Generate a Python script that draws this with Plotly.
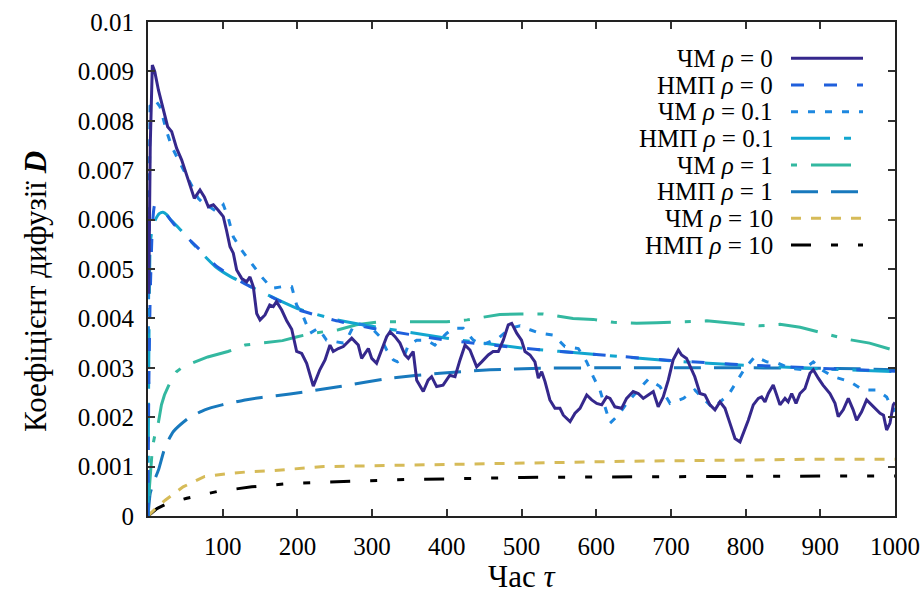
import plotly.graph_objects as go

# ---------------- data (D in units of 1e-3) ----------------
chm0_x = [1, 3, 5.8, 9, 14, 20.5, 26.3, 31.7, 38.4, 45, 51.8, 56, 62, 69.6, 75.4, 80.8, 87.5, 94, 100.8, 105,
          109.8, 114.2, 118.7, 125.4, 132, 136.5, 141, 145.5, 150, 156.6, 163, 167.7, 172, 179, 185.7, 192.4,
          199, 205.8, 212.4, 221.3, 230, 237, 243.6, 248, 254.8, 261.5, 266, 272.7, 281.5, 286, 295, 299.5,
          306, 312.8, 319.5, 324, 330.7, 337.3, 344, 348.5, 355, 359.7, 364, 368.5, 375, 379.7, 386.4, 395,
          404, 411, 417.7, 424.4, 431, 440, 446.7, 455.5, 462, 469, 475.6, 482.3, 486.9, 493.6, 500, 504.7,
          511.4, 518, 522.5, 527, 531.5, 538, 544.8, 551.5, 556, 565, 571.6, 578.3, 587.3, 594, 600.7, 607.4,
          614, 618.5, 625, 634, 640.7, 649.5, 656.3, 663, 669.7, 676.4, 683, 689.7, 696.5, 703, 710, 714.3,
          721, 727.7, 732, 739, 745.6, 752.3, 759, 765.7, 772.4, 779, 785.8, 792.5, 797, 803.6, 810.3, 817,
          821.4, 826, 830.4, 837, 841.6, 846, 852.7, 857, 861.7, 867.5, 872.8, 879.5, 886.2, 890.6, 897.3,
          903.6, 912.9, 919.7, 924, 930.7, 937.5, 944, 948.6, 955.3, 962, 968.7, 973, 980, 984.6, 988.8,
          993.3, 997.7, 1000]
chm0_y = [4.5, 7.5, 9.13, 9.0, 8.62, 8.22, 7.88, 7.78, 7.44, 7.21, 6.9, 6.67, 6.43, 6.6, 6.46, 6.26, 6.3, 6.19,
          6.06, 5.79, 5.45, 5.32, 4.98, 4.81, 4.74, 4.84, 4.64, 4.10, 3.97, 4.07, 4.27, 4.24, 4.34, 4.17, 3.95,
          3.78, 3.33, 3.29, 3.09, 2.63, 2.96, 3.16, 3.46, 3.33, 3.39, 3.43, 3.50, 3.60, 3.46, 3.19, 3.39, 3.19,
          3.09, 3.36, 3.63, 3.73, 3.63, 3.50, 3.26, 3.19, 3.33, 2.75, 2.65, 2.52, 2.75, 2.82, 2.62, 2.65, 2.85,
          2.82, 3.16, 3.46, 3.36, 3.02, 3.12, 3.26, 3.33, 3.33, 3.56, 3.87, 3.90, 3.70, 3.56, 3.33, 3.26, 3.12,
          2.79, 2.92, 2.72, 2.35, 2.18, 2.18, 2.04, 1.91, 2.08, 2.18, 2.45, 2.35, 2.28, 2.25, 2.41, 2.38, 2.21,
          2.18, 2.38, 2.52, 2.48, 2.38, 2.45, 2.52, 2.21, 2.41, 2.75, 3.16, 3.36, 3.26, 3.19, 2.96, 2.82, 2.48,
          2.45, 2.25, 2.15, 2.31, 2.18, 1.88, 1.57, 1.50, 1.67, 1.94, 2.25, 2.38, 2.41, 2.31, 2.48, 2.65, 2.45,
          2.25, 2.38, 2.31, 2.48, 2.28, 2.48, 2.58, 2.89, 2.96, 2.79, 2.65, 2.48, 2.28, 2.01, 2.15, 2.38, 2.15,
          1.94, 2.11, 2.35, 2.25, 2.18, 2.08, 2.04, 1.74, 1.88, 2.25, 2.30]

nmp0_x = [0, 1, 3, 6, 9, 13, 18, 25, 35, 45, 55, 70, 90, 110, 130, 150, 175, 200, 250, 300, 400, 500, 600,
          700, 800, 900, 1000]
nmp0_y = [0, 2.5, 4.5, 5.9, 6.3, 6.32, 6.25, 6.1, 5.9, 5.75, 5.6, 5.38, 5.08, 4.87, 4.7, 4.55, 4.36, 4.18,
          3.96, 3.8, 3.56, 3.40, 3.27, 3.15, 3.06, 2.99, 2.93]

chm01_x = [0.5, 1.5, 2.7, 9.4, 16, 25, 31.7, 40.6, 49.5, 58.5, 67.3, 76.3, 85.3, 92, 100.8, 107.5, 114.2, 125.4,
           138.8, 152.2, 165.6, 179, 192.4, 199, 208, 216.9, 228, 239, 250.3, 261.5, 268, 277, 288, 299.5,
           310.6, 319.5, 328.4, 334, 341.8, 348.5, 359.7, 373, 384, 400, 408.7, 422, 435.5, 446.7, 457.8, 469,
           484.6, 498, 511.4, 524.8, 542.6, 558.2, 576, 587.3, 596, 605, 611.8, 618.5, 629.6, 640.7, 656.3,
           669.7, 685.4, 698.8, 716.6, 732, 748, 756.8, 765.7, 776.9, 788, 799, 812.6, 828.2, 843.8, 859.4,
           877.2, 890.6, 901.8, 917.4, 939.7, 957.5, 975.4, 988.8, 997.7, 1000]
chm01_y = [3.7, 6.5, 8.3, 8.42, 8.29, 7.78, 7.48, 7.21, 6.94, 6.67, 6.43, 6.30, 6.23, 6.16, 6.30, 6.03, 5.65,
           5.38, 5.11, 4.84, 4.61, 4.64, 4.64, 4.27, 4.03, 3.70, 3.80, 3.56, 3.53, 3.50, 3.63, 3.90, 3.87, 3.80,
           3.63, 3.36, 3.16, 3.12, 3.19, 3.46, 3.56, 3.56, 3.46, 3.70, 3.80, 3.80, 3.56, 3.46, 3.53, 3.60, 3.80,
           3.85, 3.77, 3.70, 3.66, 3.43, 3.39, 3.12, 2.82, 2.55, 2.21, 1.88, 2.04, 2.28, 2.55, 2.77, 2.62, 2.28,
           2.38, 2.55, 2.31, 2.18, 2.31, 2.45, 2.72, 2.99, 3.23, 3.12, 3.09, 2.99, 2.96, 3.12, 2.96, 2.82, 2.72,
           2.55, 2.55, 2.41, 2.11, 2.30]

nmp01_x = [0, 1, 3, 6, 10, 15, 20, 25, 30, 40, 55, 70, 90, 110, 130, 150, 175, 200, 250, 300, 400, 500, 600,
           700, 800, 900, 1000]
nmp01_y = [0, 3.0, 5.5, 5.85, 6.0, 6.12, 6.15, 6.1, 6.0, 5.85, 5.6, 5.35, 5.05, 4.85, 4.7, 4.55, 4.37, 4.2,
           3.98, 3.84, 3.6, 3.4, 3.27, 3.14, 3.05, 2.98, 2.92]

chm1_x = [0, 2, 5, 7, 10, 14, 18, 22, 27, 32, 38, 45, 58, 80, 107, 130, 152, 180, 200, 221, 255, 279, 310, 355,
          400, 427, 449, 471, 498, 529, 569, 596, 623, 654, 681, 721, 748, 783, 819, 846, 873, 904, 935, 966,
          993, 1000]
chm1_y = [0, 0.6, 1.2, 1.47, 1.7, 1.9, 2.25, 2.45, 2.62, 2.78, 2.92, 3.0, 3.09, 3.22, 3.33, 3.46, 3.50, 3.55,
          3.63, 3.70, 3.77, 3.87, 3.93, 3.93, 3.93, 3.97, 4.03, 4.08, 4.09, 4.09, 4.0, 3.98, 3.92, 3.90, 3.91,
          3.93, 3.95, 3.90, 3.85, 3.88, 3.82, 3.70, 3.58, 3.50, 3.37, 3.35]

nmp1_x = [0, 3, 8, 14, 23, 34, 54, 76, 99, 130, 152, 190, 257, 324, 391, 458, 525, 600, 700, 800, 900, 950, 1000]
nmp1_y = [0, 0.46, 0.7, 0.93, 1.40, 1.71, 1.98, 2.15, 2.25, 2.35, 2.40, 2.47, 2.62, 2.79, 2.89, 2.96, 2.99,
          3.0, 3.0, 3.0, 2.99, 2.98, 2.96]

chm10_x = [0, 10, 23, 47, 76, 107, 139, 168, 235, 302, 382, 502, 650, 784, 895, 1000]
chm10_y = [0, 0.15, 0.32, 0.59, 0.80, 0.86, 0.90, 0.92, 1.0, 1.02, 1.03, 1.07, 1.11, 1.13, 1.15, 1.15]

nmp10_x = [0, 5, 12, 25, 52, 94, 139, 190, 257, 346, 436, 502, 600, 694, 800, 917, 1000]
nmp10_y = [0, 0.07, 0.15, 0.25, 0.36, 0.50, 0.59, 0.66, 0.69, 0.74, 0.76, 0.78, 0.79, 0.80, 0.805, 0.81, 0.81]

series_names = ["ЧМ <i>ρ</i> = 0", "НМП <i>ρ</i> = 0", "ЧМ <i>ρ</i> = 0.1", "НМП <i>ρ</i> = 0.1",
                "ЧМ <i>ρ</i> = 1", "НМП <i>ρ</i> = 1", "ЧМ <i>ρ</i> = 10", "НМП <i>ρ</i> = 10"]
series_x = [chm0_x, nmp0_x, chm01_x, nmp01_x, chm1_x, nmp1_x, chm10_x, nmp10_x]
series_y = [chm0_y, nmp0_y, chm01_y, nmp01_y, chm1_y, nmp1_y, chm10_y, nmp10_y]

y_tick_vals = [0, 0.001, 0.002, 0.003, 0.004, 0.005, 0.006, 0.007, 0.008, 0.009, 0.01]
y_tick_text = ["0", "0.001", "0.002", "0.003", "0.004", "0.005", "0.006", "0.007", "0.008", "0.009", "0.01"]
x_tick_vals = [100, 200, 300, 400, 500, 600, 700, 800, 900, 1000]
x_tick_text = ["100", "200", "300", "400", "500", "600", "700", "800", "900", "1000"]

# ---------------- styles ----------------
colors = ["#35288c", "#1f5fdc", "#1e88e0", "#12a6cf", "#33b8a0", "#1879bd", "#d6bb58", "#000000"]
dashes = ["solid", "13px,20px", "7px,10px", "39px,14px,7px,14px", "6px,14px,40px,14px", "27px,13px",
          "10px,10px", "20px,20px,7px,20px,7px,20px"]
shapes_kind = ["linear", "spline", "linear", "spline", "linear", "spline", "linear", "linear"]

FONT = "Tinos"
W, H = 924, 593
L, R, T, B = 148, 29, 22, 77
PW, PH = W - L - R, H - T - B

fig = go.Figure()
order = [7, 6, 5, 4, 3, 1, 2, 0]
for i in order:
    fig.add_trace(go.Scatter(
        x=series_x[i], y=[v * 1e-3 for v in series_y[i]], mode="lines",
        line=dict(color=colors[i], width=3, dash=dashes[i], shape=shapes_kind[i], smoothing=0.5),
        showlegend=False))

# manual legend (text right-aligned, sample on the right, as in gnuplot)
row_px = [58.3, 85, 111.7, 138.3, 165, 191.7, 218.3, 245]
text_right_px, s0_px, s1_px = 775, 791, 863
shapes = []
annos = []
for i, name in enumerate(series_names):
    yp = (H - B - row_px[i]) / PH
    shapes.append(dict(type="line", xref="paper", yref="paper",
                       x0=(s0_px - L) / PW, x1=(s1_px - L) / PW, y0=yp, y1=yp,
                       line=dict(color=colors[i], width=3, dash=dashes[i])))
    annos.append(dict(xref="paper", yref="paper", x=(text_right_px - L) / PW, y=yp,
                      xanchor="right", yanchor="middle", text=name, showarrow=False,
                      font=dict(family=FONT, size=25)))

annos.append(dict(xref="paper", yref="paper", x=0.5, y=(H - B - 576) / PH, xanchor="center",
                  yanchor="middle", text="Час <i>τ</i>", showarrow=False,
                  font=dict(family=FONT, size=31)))
annos.append(dict(xref="paper", yref="paper", x=(36 - L) / PW, y=(H - B - 292) / PH, xanchor="center",
                  yanchor="middle", text="Коефіцієнт дифузії <b><i>D</i></b>", showarrow=False, textangle=-90,
                  font=dict(family=FONT, size=31)))

axis_common = dict(showline=True, linewidth=2, linecolor="#222222", mirror="allticks", ticks="inside",
                   ticklen=7, tickwidth=1.5, tickcolor="#333333", showgrid=False, zeroline=False,
                   tickfont=dict(family=FONT, size=25), ticklabelstandoff=7)

fig.update_layout(
    width=W, height=H, margin=dict(l=L, r=R, t=T, b=B, autoexpand=False),
    plot_bgcolor="white", paper_bgcolor="white",
    font=dict(family=FONT, color="black"),
    xaxis=dict(range=[0, 1000], tickvals=x_tick_vals, ticktext=x_tick_text, **axis_common),
    yaxis=dict(range=[0, 0.01], tickvals=y_tick_vals, ticktext=y_tick_text, **axis_common),
    shapes=shapes, annotations=annos,
)

fig.write_html("out.html")
